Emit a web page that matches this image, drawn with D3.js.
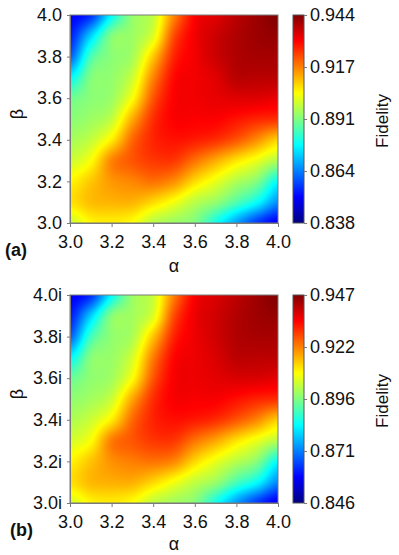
<!DOCTYPE html>
<html>
	<head>
		<meta charset="utf-8">
		<title> fidelity maps </title>
		<script src="https://cdnjs.cloudflare.com/ajax/libs/d3/7.8.5/d3.min.js"></script>
		<style>
			body { margin: 0; background: #fff; }
			text { font-family: "Liberation Sans", Arial, sans-serif; fill: #111; }
		</style>
	</head>

	<body>
		<script>

		const alphaValues = [3.0, 3.1, 3.2, 3.3, 3.4, 3.5, 3.6, 3.7, 3.8, 3.9, 4.0];
		const betaValues  = [4.0, 3.9, 3.8, 3.7, 3.6, 3.5, 3.4, 3.3, 3.2, 3.1, 3.0];   // rows, top to bottom

		// panel (a): real beta
		const fidelityA = [
			[0.851, 0.856, 0.878, 0.893, 0.898, 0.917, 0.931, 0.934, 0.938, 0.941, 0.944],
			[0.854, 0.873, 0.891, 0.894, 0.901, 0.923, 0.932, 0.936, 0.939, 0.941, 0.942],
			[0.861, 0.885, 0.892, 0.895, 0.910, 0.927, 0.932, 0.936, 0.939, 0.940, 0.940],
			[0.877, 0.891, 0.893, 0.899, 0.917, 0.930, 0.932, 0.934, 0.938, 0.938, 0.938],
			[0.889, 0.892, 0.894, 0.904, 0.922, 0.931, 0.932, 0.933, 0.934, 0.934, 0.933],
			[0.892, 0.894, 0.898, 0.913, 0.926, 0.931, 0.931, 0.931, 0.929, 0.927, 0.926],
			[0.895, 0.898, 0.906, 0.920, 0.927, 0.929, 0.928, 0.926, 0.922, 0.916, 0.909],
			[0.899, 0.904, 0.917, 0.922, 0.925, 0.925, 0.919, 0.913, 0.907, 0.902, 0.896],
			[0.905, 0.910, 0.915, 0.917, 0.919, 0.916, 0.908, 0.902, 0.896, 0.891, 0.878],
			[0.907, 0.911, 0.912, 0.912, 0.908, 0.903, 0.897, 0.893, 0.886, 0.878, 0.866],
			[0.899, 0.905, 0.906, 0.904, 0.897, 0.894, 0.891, 0.880, 0.868, 0.857, 0.850]
		];

		// panel (b): imaginary beta
		const fidelityB = [
			[0.858, 0.863, 0.884, 0.899, 0.904, 0.922, 0.935, 0.938, 0.941, 0.944, 0.947],
			[0.861, 0.879, 0.897, 0.900, 0.906, 0.927, 0.936, 0.939, 0.942, 0.944, 0.945],
			[0.868, 0.890, 0.898, 0.901, 0.915, 0.931, 0.936, 0.939, 0.942, 0.943, 0.943],
			[0.883, 0.897, 0.899, 0.905, 0.922, 0.934, 0.936, 0.938, 0.941, 0.941, 0.941],
			[0.894, 0.898, 0.900, 0.909, 0.926, 0.935, 0.936, 0.937, 0.938, 0.938, 0.937],
			[0.898, 0.900, 0.904, 0.918, 0.930, 0.935, 0.935, 0.935, 0.933, 0.931, 0.930],
			[0.901, 0.904, 0.911, 0.924, 0.931, 0.933, 0.932, 0.930, 0.926, 0.921, 0.914],
			[0.905, 0.909, 0.922, 0.926, 0.929, 0.929, 0.923, 0.918, 0.912, 0.907, 0.902],
			[0.910, 0.915, 0.920, 0.922, 0.923, 0.921, 0.913, 0.907, 0.902, 0.897, 0.884],
			[0.912, 0.916, 0.917, 0.917, 0.913, 0.908, 0.903, 0.899, 0.891, 0.884, 0.872],
			[0.905, 0.910, 0.911, 0.909, 0.903, 0.900, 0.897, 0.886, 0.874, 0.864, 0.857]
		];

		const xTicks = [3.0, 3.2, 3.4, 3.6, 3.8, 4.0];
		const xTickLabels = ["3.0", "3.2", "3.4", "3.6", "3.8", "4.0"];
		const yTicks = [3.0, 3.2, 3.4, 3.6, 3.8, 4.0];
		const yTickLabelsA = ["3.0", "3.2", "3.4", "3.6", "3.8", "4.0"];
		const yTickLabelsB = ["3.0i", "3.2i", "3.4i", "3.6i", "3.8i", "4.0i"];

		const rangeA = [0.838, 0.944];
		const rangeB = [0.846, 0.947];
		const cbTickLabelsA = ["0.838", "0.864", "0.891", "0.917", "0.944"];
		const cbTickLabelsB = ["0.846", "0.871", "0.896", "0.922", "0.947"];

		const jetStops = ["#000080", "#0000ff", "#0080ff", "#00ffff", "#80ff80",
		                  "#ffff00", "#ff8000", "#ff0000", "#800000"];
		const jet = d3.piecewise(d3.interpolateRgb, jetStops);

		let width = 399,
			height = 555,
			plotLeft = 70,
			plotSize = 208,
			cbLeft = 293,
			cbWidth = 11,
			frameColor = '#7a7a7a',
			fontSize = 18;

		let svg = d3.select('body')
					.append('svg')
					.attr('width', width)
					.attr('height', height);

		let defs = svg.append('defs');
		let grad = defs.append('linearGradient')
					.attr('id', 'jet')
					.attr('x1', 0).attr('y1', 1)
					.attr('x2', 0).attr('y2', 0);
		grad.selectAll('stop')
			.data(jetStops)
			.enter()
			.append('stop')
			.attr('offset', (d, i) => i / (jetStops.length - 1))
			.attr('stop-color', d => d);

		// smooth (catmull-rom) lookup inside the grid, used only for painting pixels
		function cubic(p0, p1, p2, p3, t) {
			return p1 + 0.5 * t * (p2 - p0 + t * (2 * p0 - 5 * p1 + 4 * p2 - p3 + t * (3 * (p1 - p2) + p3 - p0)));
		}
		function lookup(grid, col, row) {
			let n = grid.length, m = grid[0].length;
			let c0 = Math.floor(col), r0 = Math.floor(row);
			let tc = col - c0, tr = row - r0;
			let cl = c => Math.max(0, Math.min(m - 1, c));
			let rl = r => Math.max(0, Math.min(n - 1, r));
			let rows = [];
			for (let k = -1; k <= 2; k++) {
				let g = grid[rl(r0 + k)];
				rows.push(cubic(g[cl(c0 - 1)], g[cl(c0)], g[cl(c0 + 1)], g[cl(c0 + 2)], tc));
			}
			return cubic(rows[0], rows[1], rows[2], rows[3], tr);
		}

		function drawPanel(cfg) {
			let top = cfg.top, bottom = top + plotSize;
			let g = svg.append('g');

			let x = d3.scaleLinear().domain([3, 4]).range([plotLeft, plotLeft + plotSize]);
			let y = d3.scaleLinear().domain([3, 4]).range([bottom, top]);
			let colIndex = d3.scaleLinear().domain(d3.extent(alphaValues)).range([0, alphaValues.length - 1]);
			let rowIndex = d3.scaleLinear().domain([betaValues[0], betaValues[betaValues.length - 1]]).range([0, betaValues.length - 1]);
			let color = d3.scaleSequential(jet).domain(cfg.range).clamp(true);

			// paint the map
			let canvas = document.createElement('canvas');
			canvas.width = plotSize;
			canvas.height = plotSize;
			let ctx = canvas.getContext('2d');
			let img = ctx.createImageData(plotSize, plotSize);
			for (let py = 0; py < plotSize; py++) {
				let b = y.invert(top + py + 0.5);
				for (let px = 0; px < plotSize; px++) {
					let a = x.invert(plotLeft + px + 0.5);
					let v = lookup(cfg.data, colIndex(a), rowIndex(b));
					let c = d3.rgb(color(v));
					let k = (py * plotSize + px) * 4;
					img.data[k] = c.r;
					img.data[k + 1] = c.g;
					img.data[k + 2] = c.b;
					img.data[k + 3] = 255;
				}
			}
			ctx.putImageData(img, 0, 0);

			g.append('image')
				.attr('x', plotLeft)
				.attr('y', top)
				.attr('width', plotSize)
				.attr('height', plotSize)
				.attr('preserveAspectRatio', 'none')
				.attr('href', canvas.toDataURL());

			g.append('rect')
				.attr('x', plotLeft)
				.attr('y', top)
				.attr('width', plotSize)
				.attr('height', plotSize)
				.attr('fill', 'none')
				.attr('stroke', frameColor);

			let xAxis = g.append('g')
				.attr('transform', `translate(0,${bottom})`)
				.call(d3.axisBottom(x).tickValues(xTicks)
					.tickFormat((d, i) => xTickLabels[i])
					.tickSize(4).tickSizeOuter(0).tickPadding(8));

			let yAxis = g.append('g')
				.attr('transform', `translate(${plotLeft},0)`)
				.call(d3.axisLeft(y).tickValues(yTicks)
					.tickFormat((d, i) => cfg.yLabels[i])
					.tickSize(3).tickSizeOuter(0).tickPadding(5));

			// colour bar
			let cb = d3.scaleLinear()
				.domain([0, cfg.cbLabels.length - 1])
				.range([bottom, top]);

			g.append('rect')
				.attr('x', cbLeft)
				.attr('y', top)
				.attr('width', cbWidth)
				.attr('height', plotSize)
				.attr('fill', 'url(#jet)')
				.attr('stroke', '#555');

			let cbAxis = g.append('g')
				.attr('transform', `translate(${cbLeft + cbWidth},0)`)
				.call(d3.axisRight(cb).tickValues(d3.range(cfg.cbLabels.length))
					.tickFormat((d, i) => cfg.cbLabels[i])
					.tickSize(3).tickSizeOuter(0).tickPadding(3));

			[xAxis, yAxis, cbAxis].forEach(ax => {
				ax.select('.domain').attr('stroke', frameColor);
				ax.selectAll('.tick line').attr('stroke', frameColor);
				ax.selectAll('text')
					.attr('font-family', '"Liberation Sans", Arial, sans-serif')
					.attr('font-size', fontSize)
					.attr('fill', '#111');
			});
			cbAxis.select('.domain').remove();

			// labels
			g.append('text')
				.attr('x', plotLeft + plotSize / 2)
				.attr('y', cfg.alphaY)
				.attr('text-anchor', 'middle')
				.attr('font-size', fontSize)
				.text('α');

			g.append('text')
				.attr('transform', `translate(23,${top + plotSize / 2 - 5}) rotate(-90)`)
				.attr('text-anchor', 'middle')
				.attr('font-size', fontSize)
				.text('β');

			g.append('text')
				.attr('transform', `translate(388,${top + plotSize / 2 + 2}) rotate(-90)`)
				.attr('text-anchor', 'middle')
				.attr('font-size', 17)
				.text('Fidelity');

			g.append('text')
				.attr('x', cfg.tagX)
				.attr('y', cfg.tagY)
				.attr('font-size', fontSize)
				.attr('font-weight', 'bold')
				.text(cfg.tag);
		}

		drawPanel({ top: 15, data: fidelityA, range: rangeA, cbLabels: cbTickLabelsA,
			yLabels: yTickLabelsA, tag: '(a)', tagX: 5, tagY: 256, alphaY: 272 });
		drawPanel({ top: 295, data: fidelityB, range: rangeB, cbLabels: cbTickLabelsB,
			yLabels: yTickLabelsB, tag: '(b)', tagX: 10, tagY: 536, alphaY: 550 });

		</script>
	</body>
</html>
